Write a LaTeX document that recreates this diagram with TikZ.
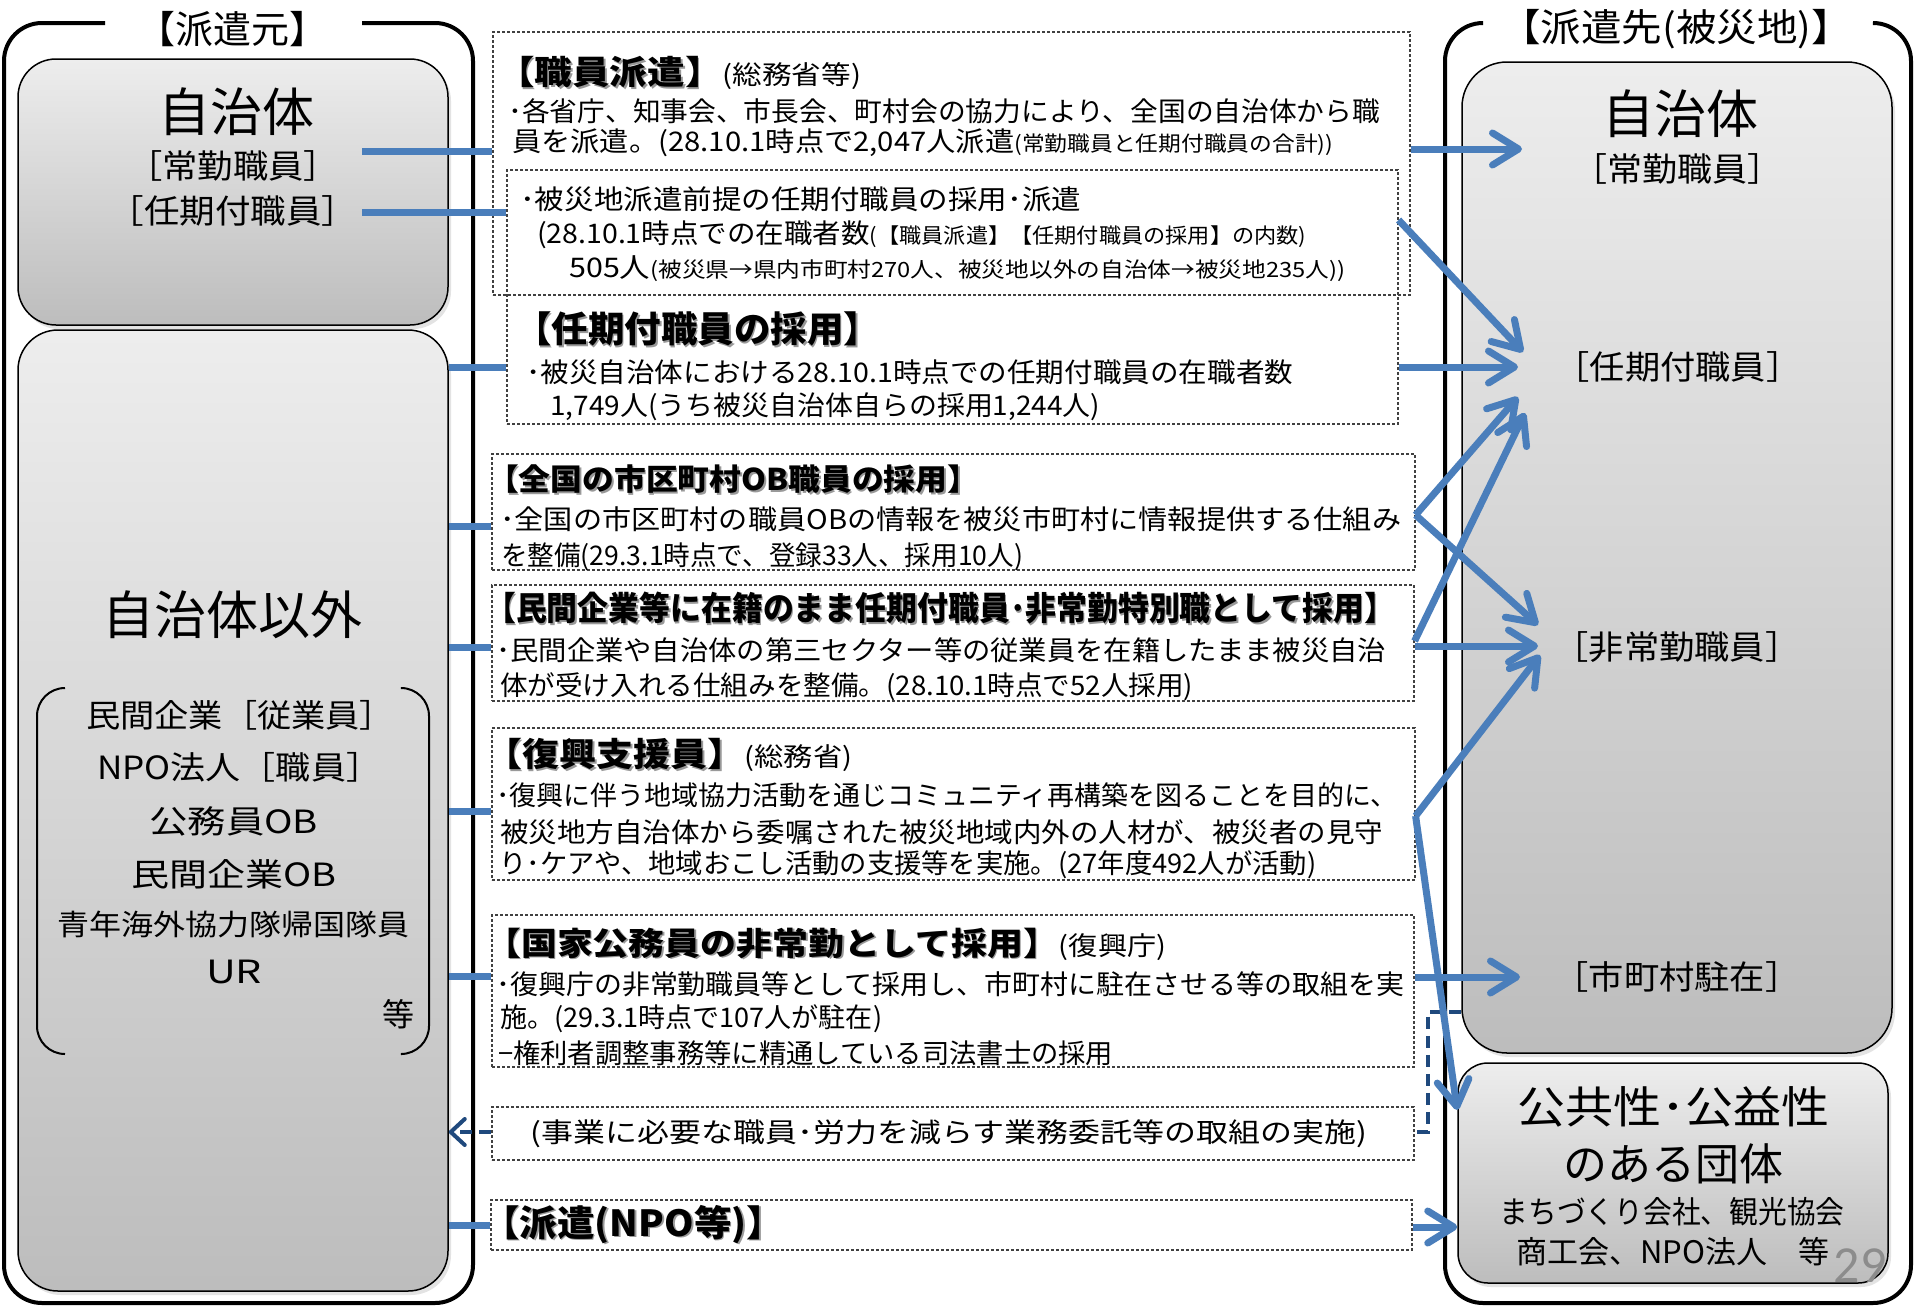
\documentclass[tikz,border=0pt]{standalone}
\usepackage{fontspec}
\setmainfont{Noto Sans CJK JP}
\newfontfamily\carl{Carlito}
\usepackage{graphicx}
\usetikzlibrary{arrows.meta,shadows,fit}
\definecolor{ablue}{HTML}{4A7EBB}
\definecolor{dblue}{HTML}{1F497D}
\newcommand{\fsz}[1]{\fontsize{#1}{#1}\selectfont}
\newcommand{\fitto}[2]{\resizebox{#1pt}{\height}{#2}}
\newcommand{\shd}[1]{{\makebox[0pt][l]{\hspace{1.5pt}\raisebox{-1.5pt}{\textcolor{black!40}{#1}}}#1}}
\tikzset{
  gbox/.style={draw=black, line width=1.5pt, top color=black!7, bottom color=black!26, inner sep=0pt,
    drop shadow={shadow xshift=3pt, shadow yshift=-4pt, opacity=0.22}},
  mbox/.style={draw=black!75, line width=1.2pt, dash pattern=on 3pt off 2pt, inner sep=0pt},
  ln/.style={inner sep=0pt, anchor=west},
  ctxt/.style={inner sep=0pt, anchor=center},
  conn/.style={ablue, line width=7pt},
  arr/.style={conn, -{Straight Barb[length=26pt,width=32pt,round]}},
  frame/.style={line width=4pt, rounded corners=38pt},
  dconn/.style={dblue, line width=4pt, dash pattern=on 12pt off 7pt},
}
\begin{document}
\begin{tikzpicture}[x=1pt,y=-1pt]
\useasboundingbox (0,0) rectangle (1915,1307);
\fill[white] (0,0) rectangle (1915,1307);

% frames
\draw[frame] (105,23) -- (4,23) -- (4,1303) -- (473,1303) -- (473,23) -- (362,23);
\draw[frame] (1480,23) -- (1445,23) -- (1445,1303) -- (1911,1303) -- (1911,23) -- (1875,23);
\node[ctxt] (tL) at (232,29) {\fsz{38}【派遣元】};
\node[ctxt] (tR) at (1676,29) {\fitto{352}{\fsz{38}【派遣先(被災地)】}};

% gray boxes
\node[gbox, rounded corners=38pt, fit={(18,59) (448,325)}] (srcJ) {};
\node[gbox, rounded corners=40pt, fit={(18,330) (448,1291)}] (srcO) {};
\node[gbox, rounded corners=45pt, fit={(1462,62) (1892,1053)}] (dstJ) {};
\node[gbox, rounded corners=30pt, fit={(1458,1063) (1888,1283)}] (dstP) {};

% left labels
\node[ctxt] (jL) at (236,112) {\fsz{52}自治体};
\node[ctxt] (jL1) at (233,166) {\fitto{212}{\fsz{33}［常勤職員］}};
\node[ctxt] (jL2) at (233,211) {\fitto{249}{\fsz{33}［任期付職員］}};
\node[ctxt] (oL) at (232,615) {\fsz{52}自治体以外};
\draw[line width=2pt, rounded corners=28pt] (65,688) -- (37,688) -- (37,1054) -- (65,1054);
\draw[line width=2pt, rounded corners=28pt] (402,688) -- (429,688) -- (429,1054) -- (402,1054);
\node[ln] (o1) at (86,715) {\fitto{308}{\fsz{32}民間企業［従業員］}};
\node[ln] (o2) at (97,767) {\fitto{284}{\fsz{32}NPO法人［職員］}};
\node[ln] (o3) at (149,821) {\fitto{169}{\fsz{32}公務員OB}};
\node[ln] (o4) at (131,874) {\fitto{205}{\fsz{32}民間企業OB}};
\node[ln] (o5) at (57,924) {\fitto{352}{\fsz{29}青年海外協力隊帰国隊員}};
\node[ln] (o6) at (206,972) {\fitto{56}{\fsz{32}UR}};
\node[ctxt] (o7) at (398,1014) {\fsz{32}等};

% right labels
\node[ctxt] (jR) at (1680,114) {\fsz{52}自治体};
\node[ctxt] (jR1) at (1677,169) {\fitto{210}{\fsz{33}［常勤職員］}};
\node[ctxt] (jR2) at (1678,367) {\fitto{247}{\fsz{33}［任期付職員］}};
\node[ctxt] (jR3) at (1677,647) {\fitto{247}{\fsz{33}［非常勤職員］}};
\node[ctxt] (jR4) at (1677,977) {\fitto{247}{\fsz{33}［市町村駐在］}};
\node[ctxt] (p1) at (1673,1107) {\fitto{312}{\fsz{44}公共性･公益性}};
\node[ctxt] (p2) at (1673,1164) {\fsz{44}のある団体};
\node[ctxt] (p3) at (1672,1212) {\fitto{345}{\fsz{31}まちづくり会社、観光協会}};
\node[ctxt] (p4) at (1673,1252) {\fsz{31}商工会、NPO法人　等};
\node[ctxt, text=black!45] (pg) at (1860,1266) {\carl\fsz{52}29};

% middle boxes
\node[mbox, fit={(493,32) (1410,295)}] (boxA) {};
\node[mbox, fit={(507,170) (1398,424)}] (boxB) {};
\node[mbox, fit={(492,454) (1415,570)}] (boxOB) {};
\node[mbox, fit={(492,585) (1414,701)}] (boxM) {};
\node[mbox, fit={(492,728) (1415,880)}] (boxF) {};
\node[mbox, fit={(492,915) (1414,1067)}] (boxK) {};
\node[mbox, fill=white, fit={(492,1107) (1414,1160)}] (boxD) {};
\node[mbox, fit={(491,1200) (1412,1250)}] (boxN) {};

% box A
\node[ln] (a1) at (497,73) {\fitto{364}{\fsz{33}\shd{\bfseries 【職員派遣】}\fsz{26}(総務省等)}};
\node[ln] (a2) at (508,111) {\fitto{872}{\fsz{27}･各省庁、知事会、市長会、町村会の協力により、全国の自治体から職}};
\node[ln] (a3) at (512,143) {\fitto{821}{\fsz{27}員を派遣。(28.10.1時点で2,047人派遣\fsz{21}(常勤職員と任期付職員の合計))}};
% box B
\node[ln] (b1) at (520,199) {\fitto{561}{\fsz{27}･被災地派遣前提の任期付職員の採用･派遣}};
\node[ln] (b2) at (537,235) {\fitto{769}{\fsz{27}(28.10.1時点での在職者数\fsz{21}(【職員派遣】【任期付職員の採用】の内数)}};
\node[ln] (b3) at (569,269) {\fitto{776}{\fsz{27}505人\fsz{21}(被災県→県内市町村270人、被災地以外の自治体→被災地235人))}};
\node[ln] (c1) at (515,330) {\fitto{365}{\fsz{36}\shd{\bfseries 【任期付職員の採用】}}};
\node[ln] (c2) at (526,372) {\fitto{767}{\fsz{27}･被災自治体における28.10.1時点での任期付職員の在職者数}};
\node[ln] (c3) at (550,407) {\fitto{550}{\fsz{27}1,749人(うち被災自治体自らの採用1,244人)}};
% box OB
\node[ln] (d1) at (487,480) {\fitto{492}{\fsz{30}\shd{\bfseries 【全国の市区町村OB職員の採用】}}};
\node[ln] (d2) at (500,519) {\fitto{901}{\fsz{27}･全国の市区町村の職員OBの情報を被災市町村に情報提供する仕組み}};
\node[ln] (d3) at (501,557) {\fitto{522}{\fsz{27}を整備(29.3.1時点で、登録33人、採用10人)}};
% box M
\node[ln] (e1) at (485,609) {\fitto{910}{\fsz{33}\shd{\bfseries 【民間企業等に在籍のまま任期付職員･非常勤特別職として採用】}}};
\node[ln] (e2) at (496,650) {\fitto{890}{\fsz{27}･民間企業や自治体の第三セクター等の従業員を在籍したまま被災自治}};
\node[ln] (e3) at (500,687) {\fitto{693}{\fsz{27}体が受け入れる仕組みを整備。(28.10.1時点で52人採用)}};
% box F
\node[ln] (f1) at (485,755) {\fitto{367}{\fsz{33}\shd{\bfseries 【復興支援員】}\fsz{26}(総務省)}};
\node[ln] (f2) at (496,795) {\fitto{901}{\fsz{27}･復興に伴う地域協力活動を通じコミュニティ再構築を図ることを目的に、}};
\node[ln] (f3) at (500,832) {\fitto{883}{\fsz{27}被災地方自治体から委嘱された被災地域内外の人材が、被災者の見守}};
\node[ln] (f4) at (499,865) {\fitto{817}{\fsz{27}り･ケアや、地域おこし活動の支援等を実施。(27年度492人が活動)}};
% box K
\node[ln] (g1) at (485,944) {\fitto{681}{\fsz{32}\shd{\bfseries 【国家公務員の非常勤として採用】}\fsz{26}(復興庁)}};
\node[ln] (g2) at (496,984) {\fitto{908}{\fsz{27}･復興庁の非常勤職員等として採用し、市町村に駐在させる等の取組を実}};
\node[ln] (g3) at (500,1019) {\fitto{382}{\fsz{27}施。(29.3.1時点で107人が駐在)}};
\node[ln] (g4) at (498,1053) {\fitto{615}{\fsz{27}−権利者調整事務等に精通している司法書士の採用}};
% box D, N
\node[ctxt] (h1) at (949,1134) {\fitto{836}{\fsz{27}(事業に必要な職員･労力を減らす業務委託等の取組の実施)}};
\node[ln] (n1) at (482,1225) {\fitto{302}{\fsz{36}\shd{\bfseries 【派遣(NPO等)】}}};

% left connectors
\coordinate (s1) at (362,151);
\coordinate (s2) at (362,212);
\draw[conn] (s1) -- (boxA.west |- s1);
\draw[conn] (s2) -- (boxB.west |- s2);
\draw[conn] (srcO.east |- 0,367) -- (boxB.west |- 0,367);
\draw[conn] (srcO.east |- 0,526) -- (boxOB.west |- 0,526);
\draw[conn] (srcO.east |- 0,647) -- (boxM.west |- 0,647);
\draw[conn] (srcO.east |- 0,811) -- (boxF.west |- 0,811);
\draw[conn] (srcO.east |- 0,976) -- (boxK.west |- 0,976);
\draw[conn] (srcO.east |- 0,1225) -- (boxN.west |- 0,1225);

% dashed connector
\coordinate (c1) at (1428,1012);
\coordinate (c2) at (1428,1132);
\draw[dconn] (dstJ.west |- c1) -- (c1) -- (c2) -- (boxD.east |- c2);
\draw[dconn, -{Straight Barb[length=14pt,width=26pt,round]}] (boxD.west |- c2) -- (srcO.east |- c2);

% right arrows
\coordinate (t1) at (1522,149);
\coordinate (t2) at (1523,352);
\coordinate (t3) at (1518,367);
\coordinate (t4) at (1518,397);
\coordinate (t5) at (1538,625);
\coordinate (t6) at (1525,413);
\coordinate (t7) at (1538,646);
\coordinate (t8) at (1540,655);
\coordinate (t10) at (1520,977);
\draw[arr] (boxA.east |- t1) -- (t1);
\draw[arr] (boxB.east |- 0,220) -- (t2);
\draw[arr] (boxB.east |- t3) -- (t3);
\draw[arr] (boxOB.east |- 0,515) -- (t4);
\draw[arr] (boxOB.east |- 0,515) -- (t5);
\draw[arr] (boxM.east |- 0,641) -- (t6);
\draw[arr] (boxM.east |- t7) -- (t7);
\draw[arr] (boxF.east |- 0,816) -- (t8);
\draw[arr] (boxF.east |- 0,816) -- (dstP.west |- 0,1110);
\draw[arr] (boxK.east |- t10) -- (t10);
\draw[arr] (boxN.east |- 0,1227) -- (dstP.west |- 0,1227);
\end{tikzpicture}
\end{document}
